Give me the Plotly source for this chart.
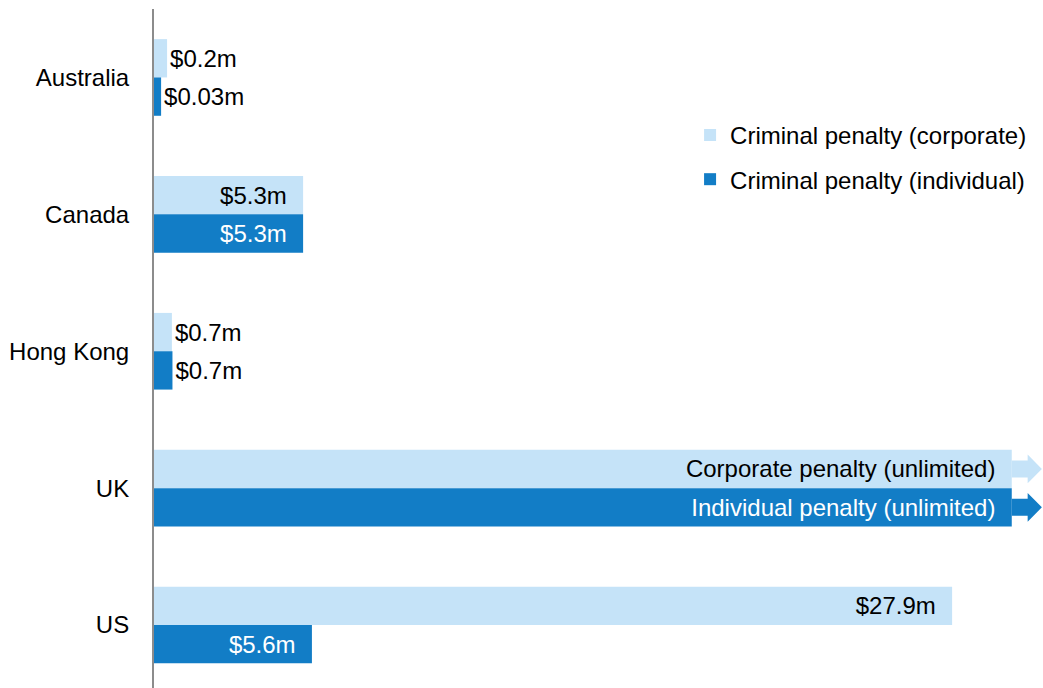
import plotly.graph_objects as go

countries = ["Australia", "Canada", "Hong Kong", "UK", "US"]
# bar lengths (US$ m, UK is unlimited -> drawn to the edge)
corporate_vals = [0.46, 5.25, 0.63, 30.2, 28.1]
individual_vals = [0.25, 5.25, 0.65, 30.2, 5.56]
corporate_labels = ["$0.2m", "$5.3m", "$0.7m", "Corporate penalty (unlimited)", "$27.9m"]
individual_labels = ["$0.03m", "$5.3m", "$0.7m", "Individual penalty (unlimited)", "$5.6m"]
corporate_pos = ["outside", "inside", "outside", "inside", "inside"]
individual_pos = ["outside", "inside", "outside", "inside", "inside"]

LIGHT = "#C5E3F8"
DARK = "#127DC6"
FONT = "Liberation Sans, Arial, sans-serif"
FS = 24
PAD = "\u00a0\u00a0"
Y_RANGE = [4.46, -0.50]

def padded(labels, pos):
    return [(l + PAD) if p == "inside" else l for l, p in zip(labels, pos)]

fig = go.Figure()
fig.add_trace(go.Bar(
    y=countries, x=corporate_vals, orientation="h", name="Criminal penalty (corporate)",
    marker=dict(color=LIGHT, line=dict(width=0)), text=padded(corporate_labels, corporate_pos),
    textposition=corporate_pos, insidetextanchor="end", constraintext="none",
    textfont=dict(color="#000000", size=FS, family=FONT), cliponaxis=False,
    legendgroup="a", hoverinfo="skip"))
fig.add_trace(go.Bar(
    y=countries, x=individual_vals, orientation="h", name="Criminal penalty (individual)",
    marker=dict(color=DARK, line=dict(width=0)), text=padded(individual_labels, individual_pos),
    textposition=individual_pos, insidetextanchor="end", constraintext="none",
    insidetextfont=dict(color="#FFFFFF", size=FS, family=FONT),
    outsidetextfont=dict(color="#000000", size=FS, family=FONT), cliponaxis=False,
    legendgroup="b", hoverinfo="skip"))

# arrows at the end of the unlimited UK bars (drawn on a numeric overlay axis)
bw = 0.28
uk = countries.index("UK")
for val, col, off in [(corporate_vals[uk], LIGHT, -bw / 2), (individual_vals[uk], DARK, bw / 2)]:
    yc = uk + off
    s = 0.062
    h = 0.105
    x1 = val + 0.56
    x2 = val + 1.06
    xs = [val, x1, x1, x2, x1, x1, val, val]
    ys = [yc - s, yc - s, yc - h, yc, yc + h, yc + s, yc + s, yc - s]
    fig.add_trace(go.Scatter(x=xs, y=ys, yaxis="y2", mode="lines", fill="toself",
                             fillcolor=col, line=dict(width=0, color=col),
                             showlegend=False, hoverinfo="skip", cliponaxis=False))

fig.update_layout(
    width=1043, height=688, barmode="group", bargap=0.44, bargroupgap=0,
    margin=dict(l=154, r=0, t=9, b=0), plot_bgcolor="white", paper_bgcolor="white",
    font=dict(family=FONT, size=FS, color="#000000"),
    xaxis=dict(range=[0, 31.3], visible=False, showgrid=False, zeroline=False, automargin=False),
    yaxis=dict(range=Y_RANGE, showline=True, linecolor="#8C8C8C", linewidth=2,
               ticks="", showgrid=False, ticklabelstandoff=18, automargin=False,
               tickfont=dict(size=FS, family=FONT, color="#000000")),
    yaxis2=dict(range=Y_RANGE, overlaying="y", visible=False, showgrid=False,
                zeroline=False, automargin=False),
    legend=dict(x=0.603, y=0.847, xanchor="left", yanchor="top", traceorder="grouped",
                tracegroupgap=10, font=dict(size=FS, family=FONT, color="#000000"),
                bgcolor="rgba(0,0,0,0)", itemwidth=30),
    showlegend=True,
)
fig.write_html("out.html", config={"displayModeBar": False},
               post_script="document.body.style.margin='0';document.body.style.overflow='hidden';")
